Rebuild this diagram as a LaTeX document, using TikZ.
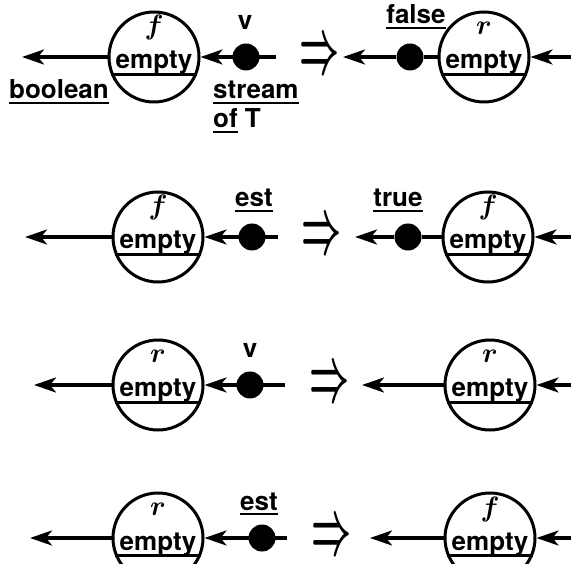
\RequirePackage{fix-cm}
\documentclass[tikz,border=0pt]{standalone}
\usepackage{fontspec}
\usepackage{graphicx}
\usetikzlibrary{arrows.meta}
\newfontfamily\labelfont{TeX Gyre Heros}
\newcommand{\ulbox}[1]{\setbox0=\hbox{#1}\vtop{\box0\kern2.5pt\hrule height 2.6pt}}
\tikzset{
    state/.style={draw, circle, line width=3pt, minimum size=90pt, inner sep=0pt},
    tok/.style={fill, circle, minimum size=27pt, inner sep=0pt},
    wire/.style={line width=3.2pt},
    arr/.style={line width=3.2pt, -{Stealth[length=22pt, width=15pt, inset=6pt]}},
    lbl/.style={font=\labelfont\bfseries\fontsize{26}{30}\selectfont, inner sep=0pt},
    nm/.style={font=\fontsize{28}{32}\selectfont\boldmath, inner sep=0pt},
    impl/.style={inner sep=0pt}
}
\newcommand{\impl}{\resizebox{40pt}{30pt}{\boldmath$\Rightarrow$}}
\begin{document}
\begin{tikzpicture}[x=1pt,y=-1pt]
    \useasboundingbox (0,0) rectangle (571,564);
    \clip (0,0) rectangle (571,564);
    \fill[white] (0,0) rectangle (571,564);

    % row 1: f, v
    \node[state] (L1) at (154,57) {};
    \node[nm] at (154,28) {$f$};
    \node[lbl,anchor=base] at (154,69) {empty};
    \draw[wire] (L1.202) -- (L1.338);
    \coordinate (o1) at (22,57);
    \draw[arr] (L1) -- (o1);
    \node[tok] (t1) at (246,57) {};
    \coordinate (s1) at (276,57);
    \draw[arr] (s1) -- (L1);
    \node[lbl,anchor=base] at (245,30) {v};
    \node[lbl,anchor=base] at (59,99) {\ulbox{boolean}};
    \node[lbl,anchor=base west] at (213,99) {\ulbox{stream}};
    \node[lbl,anchor=base west] at (213,128) {\ulbox{of}~T};
    \node[impl] at (320,57) {\impl};
    \node[tok] (u1) at (410,57) {};
    \coordinate (p1) at (343,57);
    \draw[arr] (u1) -- (p1);
    \node[lbl,anchor=base] at (416,24) {\ulbox{false}};
    \node[state] (R1) at (484,57) {};
    \node[nm] at (484,28) {$r$};
    \node[lbl,anchor=base] at (484,69) {empty};
    \draw[wire] (R1.202) -- (R1.338);
    \draw[wire] (R1) -- (u1);
    \coordinate (q1) at (580,57);
    \draw[arr] (q1) -- (R1);

    % row 2: f, est
    \node[state] (L2) at (158,237) {};
    \node[nm] at (158,208) {$f$};
    \node[lbl,anchor=base] at (158,249) {empty};
    \draw[wire] (L2.202) -- (L2.338);
    \coordinate (o2) at (25,237);
    \draw[arr] (L2) -- (o2);
    \node[tok] (t2) at (252,237) {};
    \coordinate (s2) at (278,237);
    \draw[arr] (s2) -- (L2);
    \node[lbl,anchor=base] at (254,207) {\ulbox{est}};
    \node[impl] at (322,237) {\impl};
    \node[tok] (u2) at (408,237) {};
    \coordinate (p2) at (355,237);
    \draw[arr] (u2) -- (p2);
    \node[lbl,anchor=base] at (398,207) {\ulbox{true}};
    \node[state] (R2) at (488,237) {};
    \node[nm] at (488,208) {$f$};
    \node[lbl,anchor=base] at (488,249) {empty};
    \draw[wire] (R2.202) -- (R2.338);
    \draw[wire] (R2) -- (u2);
    \coordinate (q2) at (580,237);
    \draw[arr] (q2) -- (R2);

    % row 3: r, v
    \node[state] (L3) at (158,385) {};
    \node[nm] at (158,356) {$r$};
    \node[lbl,anchor=base] at (158,397) {empty};
    \draw[wire] (L3.202) -- (L3.338);
    \coordinate (o3) at (34,385);
    \draw[arr] (L3) -- (o3);
    \node[tok] (t3) at (250,385) {};
    \coordinate (s3) at (285,385);
    \draw[arr] (s3) -- (L3);
    \node[lbl,anchor=base] at (250,358) {v};
    \node[impl] at (330,385) {\impl};
    \node[state] (R3) at (490,385) {};
    \node[nm] at (490,356) {$r$};
    \node[lbl,anchor=base] at (490,397) {empty};
    \draw[wire] (R3.202) -- (R3.338);
    \coordinate (p3) at (362,385);
    \draw[arr] (R3) -- (p3);
    \coordinate (q3) at (580,385);
    \draw[arr] (q3) -- (R3);

    % row 4: r, est
    \node[state] (L4) at (158,538) {};
    \node[nm] at (158,509) {$r$};
    \node[lbl,anchor=base] at (158,550) {empty};
    \draw[wire] (L4.202) -- (L4.338);
    \coordinate (o4) at (30,538);
    \draw[arr] (L4) -- (o4);
    \node[tok] (t4) at (262,538) {};
    \coordinate (s4) at (287,538);
    \draw[arr] (s4) -- (L4);
    \node[lbl,anchor=base] at (259,510) {\ulbox{est}};
    \node[impl] at (332,538) {\impl};
    \node[state] (R4) at (490,538) {};
    \node[nm] at (490,509) {$f$};
    \node[lbl,anchor=base] at (490,550) {empty};
    \draw[wire] (R4.202) -- (R4.338);
    \coordinate (p4) at (370,538);
    \draw[arr] (R4) -- (p4);
    \coordinate (q4) at (580,538);
    \draw[arr] (q4) -- (R4);
\end{tikzpicture}
\end{document}
